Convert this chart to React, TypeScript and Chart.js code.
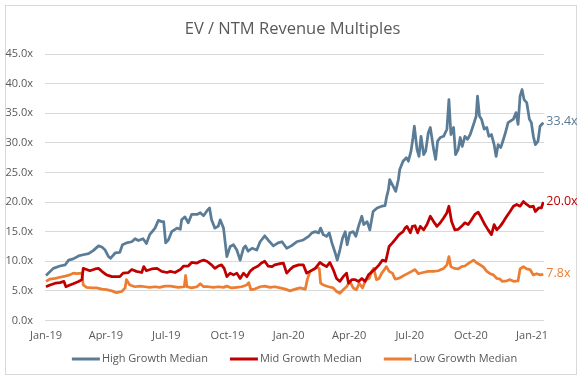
import React, { useEffect, useRef } from 'react';
import { Chart, registerables } from 'chart.js';

Chart.register(...registerables);

const TITLE = 'EV / NTM Revenue Multiples';
const SERIES_NAMES = ['High Growth Median', 'Mid Growth Median', 'Low Growth Median'];
const SERIES_COLORS = ['#5B7C96', '#C00000', '#ED7D31'];

// x positions are days since 1 Jan 2019
const X_TICK_DAYS = [0, 90, 181, 273, 365, 456, 547, 639, 731];
const X_TICK_LABELS = ['Jan-19', 'Apr-19', 'Jul-19', 'Oct-19', 'Jan-20', 'Apr-20', 'Jul-20', 'Oct-20', 'Jan-21'];
const Y_TICKS = [0, 5, 10, 15, 20, 25, 30, 35, 40, 45];

const HIGH_DAYS = [0, 11, 21, 29, 34, 41, 49, 56, 64, 71, 79, 84, 89, 94, 97, 104, 111, 115, 121, 129, 134, 139, 146, 151, 156, 164, 169, 174, 177, 180, 184, 189, 197, 202, 204, 209, 214, 219, 227, 232, 237, 242, 246, 249, 254, 259, 262, 267, 272, 277, 282, 287, 292, 297, 300, 304, 310, 317, 322, 329, 334, 342, 349, 355, 362, 369, 375, 377, 387, 395, 400, 405, 410, 413, 417, 422, 426, 430, 435, 438, 442, 446, 450, 453, 457, 462, 466, 470, 475, 478, 483, 487, 492, 498, 505, 510, 512, 515, 517, 522, 526, 530, 532, 537, 542, 545, 549, 552, 554, 558, 561, 564, 568, 571, 575, 578, 580, 583, 586, 589, 593, 598, 603, 606, 609, 613, 616, 620, 623, 626, 630, 634, 638, 643, 647, 649, 652, 655, 659, 663, 666, 670, 674, 677, 680, 684, 688, 691, 695, 699, 703, 707, 710, 713, 716, 719, 723, 727, 730, 733, 736, 740, 743, 748];
const HIGH_VALS = [7.6, 8.8, 9.2, 9.4, 10.2, 10.4, 10.9, 11.1, 11.3, 11.8, 12.6, 12.4, 11.9, 10.8, 10.5, 11.4, 11.5, 12.8, 13.1, 13.3, 13.8, 13.5, 13.8, 13.0, 14.5, 15.6, 16.9, 16.7, 16.7, 13.1, 13.6, 15.0, 15.6, 15.4, 17.0, 17.5, 16.5, 17.9, 17.9, 18.2, 17.7, 18.5, 19.0, 17.0, 15.6, 15.9, 17.0, 15.6, 10.8, 12.5, 12.8, 11.9, 10.2, 12.2, 12.6, 11.7, 12.2, 11.9, 13.3, 14.3, 13.6, 12.6, 13.1, 13.3, 12.2, 12.6, 13.1, 13.3, 13.6, 14.2, 14.8, 15.0, 14.8, 15.6, 14.5, 14.2, 14.8, 13.1, 11.4, 10.2, 11.9, 13.9, 15.0, 12.8, 14.8, 15.0, 14.2, 15.9, 17.6, 16.2, 16.7, 15.3, 18.4, 19.0, 19.3, 19.4, 20.7, 22.1, 23.8, 22.7, 21.8, 23.8, 25.5, 26.9, 27.5, 26.9, 28.6, 30.9, 32.8, 28.9, 27.7, 31.1, 28.0, 28.6, 31.7, 32.6, 31.1, 28.9, 27.2, 30.3, 30.9, 31.1, 32.3, 37.3, 31.4, 32.6, 28.0, 28.9, 30.9, 29.4, 31.1, 30.6, 31.4, 33.1, 34.5, 37.9, 34.5, 34.0, 32.3, 32.6, 31.1, 31.4, 29.7, 27.7, 29.7, 29.2, 30.6, 31.7, 33.4, 33.7, 34.0, 35.1, 33.1, 37.9, 39.0, 37.3, 36.8, 34.0, 33.4, 31.1, 29.7, 30.3, 32.8, 33.4];

const MID_DAYS = [0, 6, 14, 21, 27, 30, 36, 41, 49, 54, 56, 61, 66, 74, 79, 84, 91, 99, 106, 111, 116, 124, 129, 136, 144, 147, 151, 159, 167, 174, 182, 187, 194, 202, 207, 214, 219, 227, 232, 237, 242, 249, 254, 259, 264, 268, 272, 277, 282, 287, 292, 297, 302, 307, 312, 319, 324, 329, 334, 340, 344, 352, 357, 362, 367, 372, 380, 387, 392, 397, 405, 412, 417, 422, 427, 432, 437, 442, 447, 452, 455, 460, 465, 470, 475, 480, 485, 491, 496, 501, 506, 511, 516, 521, 526, 531, 537, 540, 543, 548, 551, 555, 559, 563, 568, 573, 578, 583, 588, 593, 598, 603, 606, 610, 615, 620, 625, 630, 635, 640, 645, 650, 655, 660, 665, 670, 674, 678, 683, 688, 693, 698, 703, 708, 713, 718, 723, 728, 733, 736, 741, 745, 748];
const MID_VALS = [5.7, 6.0, 6.3, 6.4, 6.6, 5.7, 6.0, 6.2, 6.6, 6.9, 8.8, 8.6, 8.4, 8.7, 8.8, 8.3, 7.7, 7.4, 7.4, 7.4, 8.0, 8.1, 8.6, 8.3, 8.1, 9.1, 8.4, 8.7, 8.8, 8.3, 8.1, 8.3, 8.1, 8.6, 9.2, 9.2, 9.8, 9.7, 10.0, 10.2, 10.0, 9.4, 8.8, 9.2, 9.4, 8.8, 7.4, 8.0, 7.7, 8.0, 7.1, 8.0, 7.4, 8.3, 8.8, 9.2, 9.7, 10.0, 9.2, 9.1, 9.4, 9.6, 9.7, 8.0, 8.6, 9.1, 9.4, 9.4, 8.0, 8.3, 8.8, 9.8, 9.4, 9.1, 9.8, 8.6, 7.1, 6.6, 7.4, 8.0, 6.3, 6.9, 6.9, 6.6, 7.1, 6.6, 7.7, 8.3, 8.8, 9.4, 10.2, 10.0, 12.5, 13.1, 13.8, 14.5, 15.0, 15.6, 15.9, 14.8, 15.9, 16.0, 14.8, 15.9, 15.3, 16.2, 17.6, 16.7, 15.9, 16.5, 17.3, 18.2, 19.3, 16.7, 15.3, 15.4, 15.9, 16.5, 16.2, 17.0, 17.9, 18.3, 17.3, 16.2, 15.3, 14.5, 16.2, 15.3, 15.9, 16.7, 17.6, 18.4, 19.3, 19.6, 19.3, 20.1, 19.6, 19.2, 19.3, 18.4, 19.0, 19.0, 20.0];

const LOW_DAYS = [0, 6, 14, 21, 29, 36, 41, 46, 54, 56, 61, 69, 76, 84, 91, 99, 106, 114, 119, 121, 126, 134, 141, 149, 156, 164, 171, 179, 187, 199, 208, 210, 212, 219, 227, 232, 237, 244, 252, 259, 267, 272, 279, 287, 294, 302, 305, 308, 314, 322, 329, 337, 344, 352, 360, 367, 375, 382, 390, 393, 397, 402, 407, 411, 413, 417, 425, 432, 437, 442, 447, 452, 457, 462, 467, 471, 476, 481, 486, 490, 493, 497, 501, 505, 509, 512, 516, 521, 525, 530, 535, 540, 545, 550, 555, 560, 567, 575, 583, 590, 598, 603, 606, 609, 614, 620, 625, 630, 636, 643, 648, 653, 658, 663, 668, 673, 678, 683, 686, 693, 698, 704, 710, 713, 718, 723, 728, 733, 738, 743, 748];
const LOW_VALS = [6.6, 7.0, 7.1, 7.3, 7.5, 7.7, 8.0, 7.9, 8.0, 6.0, 5.6, 5.5, 5.5, 5.3, 5.2, 5.0, 4.7, 4.9, 5.5, 6.9, 6.0, 5.7, 5.8, 5.7, 5.6, 5.7, 5.6, 5.8, 5.8, 5.6, 5.7, 7.6, 5.7, 5.5, 5.7, 6.2, 5.7, 5.7, 5.6, 5.7, 5.6, 5.8, 5.5, 5.6, 5.7, 6.0, 6.4, 5.2, 5.3, 5.7, 5.8, 5.6, 5.7, 5.5, 5.3, 5.0, 5.3, 5.5, 5.3, 6.9, 8.3, 8.6, 9.0, 8.8, 6.3, 6.0, 5.7, 5.5, 4.9, 4.6, 5.2, 5.7, 6.6, 5.5, 5.2, 6.3, 5.5, 6.9, 7.1, 8.3, 8.8, 6.9, 7.1, 8.0, 8.6, 9.1, 8.3, 8.0, 7.0, 7.1, 7.4, 7.7, 8.0, 8.3, 8.6, 7.9, 8.1, 8.3, 8.3, 8.4, 8.8, 9.4, 10.8, 9.1, 8.8, 8.7, 9.1, 9.2, 9.7, 10.2, 9.7, 9.4, 9.0, 8.3, 7.9, 7.7, 7.1, 7.0, 6.6, 6.7, 6.9, 6.6, 6.7, 8.7, 9.1, 8.7, 8.6, 7.7, 7.9, 7.7, 7.8];

const FONT = '"Open Sans", "Noto Sans", sans-serif';
const TEXT_COLOR = '#595959';

const toPoints = (days: number[], vals: number[]) => days.map((d, i) => ({ x: d, y: vals[i] }));

const framePlugin = {
  id: 'frame',
  beforeDraw(chart: any) {
    const { ctx, width, height } = chart;
    ctx.save();
    ctx.fillStyle = '#ffffff';
    ctx.fillRect(0, 0, width, height);
    ctx.strokeStyle = '#d9d9d9';
    ctx.lineWidth = 1;
    ctx.strokeRect(5.5, 5.5, 571, 369);
    ctx.restore();
  },
};

const endLabelPlugin = {
  id: 'endLabels',
  afterDatasetsDraw(chart: any) {
    const { ctx } = chart;
    ctx.save();
    ctx.font = `12.5px ${FONT}`;
    ctx.textAlign = 'left';
    ctx.textBaseline = 'middle';
    chart.data.datasets.forEach((ds: any, i: number) => {
      const meta = chart.getDatasetMeta(i);
      const last = meta.data[meta.data.length - 1];
      const v = ds.data[ds.data.length - 1].y;
      ctx.fillStyle = ds.borderColor;
      ctx.fillText(v.toFixed(1) + 'x', last.x + 3, last.y - 1);
    });
    ctx.restore();
  },
};

const titleLegendPlugin = {
  id: 'titleLegend',
  afterDraw(chart: any) {
    const { ctx, width } = chart;
    ctx.save();
    ctx.fillStyle = TEXT_COLOR;
    ctx.font = `16.5px ${FONT}`;
    ctx.textAlign = 'center';
    ctx.textBaseline = 'middle';
    ctx.fillText(TITLE, width / 2, 29);

    ctx.font = `11px ${FONT}`;
    ctx.textAlign = 'left';
    const lineLen = 28;
    const gap = 2;
    const sep = 22;
    const widths = chart.data.datasets.map((ds: any) => ctx.measureText(ds.label).width);
    const total = widths.reduce((a: number, w: number) => a + lineLen + gap + w, 0) + sep * (widths.length - 1);
    let x = width / 2 + 2 - total / 2;
    const y = 359;
    chart.data.datasets.forEach((ds: any, i: number) => {
      ctx.strokeStyle = ds.borderColor;
      ctx.lineWidth = 3;
      ctx.beginPath();
      ctx.moveTo(x, y);
      ctx.lineTo(x + lineLen, y);
      ctx.stroke();
      ctx.fillStyle = TEXT_COLOR;
      ctx.fillText(ds.label, x + lineLen + gap, y);
      x += lineLen + gap + widths[i] + sep;
    });
    ctx.restore();
  },
};

export default function App() {
  const canvasRef = useRef<HTMLCanvasElement | null>(null);

  useEffect(() => {
    document.body.style.margin = '0';
    const canvas = canvasRef.current;
    if (!canvas) return;
    const seriesData = [
      toPoints(HIGH_DAYS, HIGH_VALS),
      toPoints(MID_DAYS, MID_VALS),
      toPoints(LOW_DAYS, LOW_VALS),
    ];
    const chart = new Chart(canvas, {
      type: 'line',
      data: {
        datasets: SERIES_NAMES.map((name, i) => ({
          label: name,
          data: seriesData[i],
          borderColor: SERIES_COLORS[i],
          backgroundColor: SERIES_COLORS[i],
          borderWidth: 2.75,
          pointRadius: 0,
          tension: 0,
          borderJoinStyle: 'round',
        })),
      },
      options: {
        responsive: false,
        animation: false,
        devicePixelRatio: 1,
        layout: { padding: { left: 0, right: 41, top: 54, bottom: 40 } },
        plugins: {
          legend: { display: false },
          title: { display: false },
          tooltip: { enabled: false },
        },
        scales: {
          x: {
            type: 'linear',
            min: -1.5,
            max: 749,
            afterBuildTicks: (scale: any) => {
              scale.ticks = X_TICK_DAYS.map((v) => ({ value: v }));
            },
            afterFit: (scale: any) => {
              scale.height = 20.5;
            },
            grid: { display: false, drawTicks: false },
            border: { display: false },
            ticks: {
              autoSkip: false,
              maxRotation: 0,
              padding: 9,
              color: TEXT_COLOR,
              font: { family: FONT, size: 11 },
              callback: (_v: any, i: number) => X_TICK_LABELS[i],
            },
          },
          y: {
            min: 0,
            max: 45,
            afterBuildTicks: (scale: any) => {
              scale.ticks = Y_TICKS.map((v) => ({ value: v }));
            },
            afterFit: (scale: any) => {
              scale.width = 45;
            },
            grid: { color: '#d9d9d9', lineWidth: 1, drawTicks: false },
            border: { display: false },
            ticks: {
              padding: 12,
              color: TEXT_COLOR,
              font: { family: FONT, size: 11 },
              callback: (v: any) => Number(v).toFixed(1) + 'x',
            },
          },
        },
      },
      plugins: [framePlugin, endLabelPlugin, titleLegendPlugin],
    } as any);
    return () => chart.destroy();
  }, []);

  return (
    <div style={{ width: 585, height: 381, position: 'relative' }}>
      <canvas ref={canvasRef} width={585} height={381} style={{ display: 'block', width: 585, height: 381 }} />
    </div>
  );
}
